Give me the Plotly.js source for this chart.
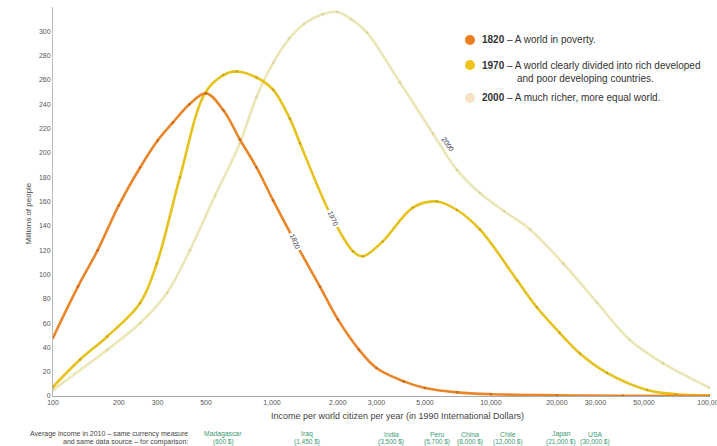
<!DOCTYPE html>
<html>
<head>
<meta charset="utf-8">
<script src="https://cdn.plot.ly/plotly-3.0.1.min.js"></script>
<style>html,body{margin:0;padding:0;background:#fff;}#chart{width:717px;height:446px;}</style>
</head>
<body>
<div id="chart"></div>
<script>
// ---- data (income in 1990 Int$, millions of people) ----
const income1820 = [100, 130, 160, 200, 250, 300, 353, 420, 500, 600, 714, 850, 1012, 1300, 1656, 2000, 2500, 3000, 4000, 5000, 7000, 10000, 20000, 40000, 100000];
const people1820 = [48, 90, 120, 157, 188, 210, 225, 240, 249, 235, 211, 188, 161, 124, 90, 63, 38, 23, 12, 6.5, 3, 1.5, 0.6, 0.2, 0];

const income1970 = [100, 133, 177, 250, 298, 380, 494, 600, 692, 850, 1012, 1208, 1343, 1843, 2346, 2600, 3200, 4400, 5660, 7000, 8900, 13200, 16200, 20600, 25500, 33900, 51600, 70000, 100000];
const people1970 = [7.5, 30, 49, 76.5, 109, 180, 249, 264, 267, 262, 252, 228, 208, 150, 119, 115, 127, 155, 160, 153, 137, 95, 73, 52, 35, 19, 5, 1.5, 0.5];

const income2000 = [100, 177, 250, 332, 422, 550, 714, 850, 1012, 1200, 1400, 1700, 1980, 2300, 2716, 3838, 5430, 7000, 8900, 11500, 15100, 21400, 30500, 43100, 61000, 100000];
const people2000 = [5, 38, 60, 85, 120, 165, 208, 246, 274, 294, 306, 314, 316, 310, 299, 258, 216, 186, 167, 152, 137, 109, 77, 46, 27, 6.6];

const xTickVals = [100, 200, 300, 500, 1000, 2000, 3000, 5000, 10000, 20000, 30000, 50000, 100000];
const xTickText = ["100", "200", "300", "500", "1,000", "2,000", "3,000", "5,000", "10,000", "20,000", "30,000", "50,000", "100,000"];
const yTickVals = [0, 20, 40, 60, 80, 100, 120, 140, 160, 180, 200, 220, 240, 260, 280, 300];

const countryNames = ["Madagascar", "Iraq", "India", "Peru", "China", "Chile", "Japan", "USA"];
const countryIncome = [600, 1450, 3500, 5700, 8000, 12000, 21000, 30000];

const seriesYears = ["1820", "1970", "2000"];
const seriesText = ["A world in poverty.", "A world clearly divided into rich developed", "A much richer, more equal world."];

// ---- styling ----
const cOrange = "#e9862a", cGold = "#e6c21c", cPale = "#ece5b6";
const font = "Liberation Sans, Arial, sans-serif";

function trace(x, y, col, dot) {
  return {x: x, y: y, type: "scatter", mode: "lines+markers",
    line: {color: col, width: 2.6, shape: "spline", smoothing: 1.0},
    marker: {color: dot, size: 2.5}, hoverinfo: "skip", showlegend: false};
}
const data = [
  trace(income2000, people2000, cPale, "#ddd49c"),
  trace(income1970, people1970, cGold, "#c9a50c"),
  trace(income1820, people1820, cOrange, "#c8661a")
];

// pixel helpers for paper placement (plot: left 53, right 710, top 7, bottom 396)
const L = 53, R = 710, T = 7, B = 396;
const px = v => (v - L) / (R - L);
const py = v => (B - v) / (B - T);

const ann = [];
// axis titles
ann.push({xref: "paper", yref: "paper", x: px(21), y: py(214), text: "Millions of people", textangle: -90,
  showarrow: false, font: {family: font, size: 8, color: "#444"}});
ann.push({xref: "paper", yref: "paper", x: px(397), y: py(416), yanchor: "middle", text: "Income per world citizen per year (in 1990 International Dollars)",
  showarrow: false, font: {family: font, size: 9, color: "#444"}});
// curve labels
ann.push({x: Math.log10(1274), y: 127, text: "1820", textangle: 66, showarrow: false, bgcolor: "#fff",
  font: {family: font, size: 7, color: "#334"}});
ann.push({x: Math.log10(1900), y: 146, text: "1970", textangle: 66, showarrow: false, bgcolor: "#fff",
  font: {family: font, size: 7, color: "#334"}});
ann.push({x: Math.log10(6370), y: 207, text: "2000", textangle: 55, showarrow: false, bgcolor: "#fff",
  font: {family: font, size: 7, color: "#334"}});
// legend texts
const legY = [40, 65, 98];
for (let i = 0; i < 3; i++) {
  ann.push({xref: "paper", yref: "paper", x: px(480), y: py(legY[i]), xanchor: "left", yanchor: "middle",
    text: "<b>" + seriesYears[i] + "</b> – " + seriesText[i], showarrow: false,
    font: {family: font, size: 10, color: "#333"}});
}
ann.push({xref: "paper", yref: "paper", x: px(515), y: py(78), xanchor: "left", yanchor: "middle",
  text: "and poor developing countries.", showarrow: false, font: {family: font, size: 10, color: "#333"}});
// bottom comparison note
ann.push({xref: "paper", yref: "paper", x: px(190), y: py(434), xanchor: "right", yanchor: "middle",
  text: "Average income in 2010 – same currency measure", showarrow: false, font: {family: font, size: 7, color: "#444"}});
ann.push({xref: "paper", yref: "paper", x: px(190), y: py(442), xanchor: "right", yanchor: "middle",
  text: "and same data source – for comparison:", showarrow: false, font: {family: font, size: 7, color: "#444"}});
for (let i = 0; i < countryNames.length; i++) {
  ann.push({x: Math.log10(countryIncome[i]), yref: "paper", y: py(434), yanchor: "middle",
    text: countryNames[i], showarrow: false, font: {family: font, size: 6.8, color: "#3b9a72"}});
  ann.push({x: Math.log10(countryIncome[i]), yref: "paper", y: py(442), yanchor: "middle",
    text: "(" + countryIncome[i].toLocaleString("en-US") + " $)", showarrow: false, font: {family: font, size: 6.5, color: "#3b9a72"}});
}

const legCols = ["#ee7d1b", "#f0c419", "#f6e2c4"];
const shapes = legY.map((yy, i) => ({type: "circle", xref: "paper", yref: "paper", xsizemode: "pixel", ysizemode: "pixel",
  xanchor: px(470), yanchor: py(yy), x0: -5, x1: 5, y0: -5, y1: 5, fillcolor: legCols[i], line: {width: 0}}));

const layout = {
  width: 717, height: 446,
  margin: {l: L, r: 717 - R, t: T, b: 446 - B},
  paper_bgcolor: "#fff", plot_bgcolor: "#fff",
  showlegend: false,
  xaxis: {type: "log", range: [2, 5.0005], tickvals: xTickVals, ticktext: xTickText,
    showgrid: false, zeroline: false, showline: true, linecolor: "#aaa", linewidth: 1,
    ticks: "", ticklen: 0, ticklabeloverflow: "allow",
    tickfont: {family: font, size: 7, color: "#555"}, fixedrange: true},
  yaxis: {range: [0, 320], tickvals: yTickVals, showgrid: false, zeroline: false,
    showline: true, linecolor: "#bbb", linewidth: 1, ticks: "", ticklen: 0,
    tickfont: {family: font, size: 7, color: "#555"}, fixedrange: true},
  annotations: ann,
  shapes: shapes,
  font: {family: font}
};

Plotly.newPlot("chart", data, layout, {displayModeBar: false, staticPlot: true});
</script>
</body>
</html>
